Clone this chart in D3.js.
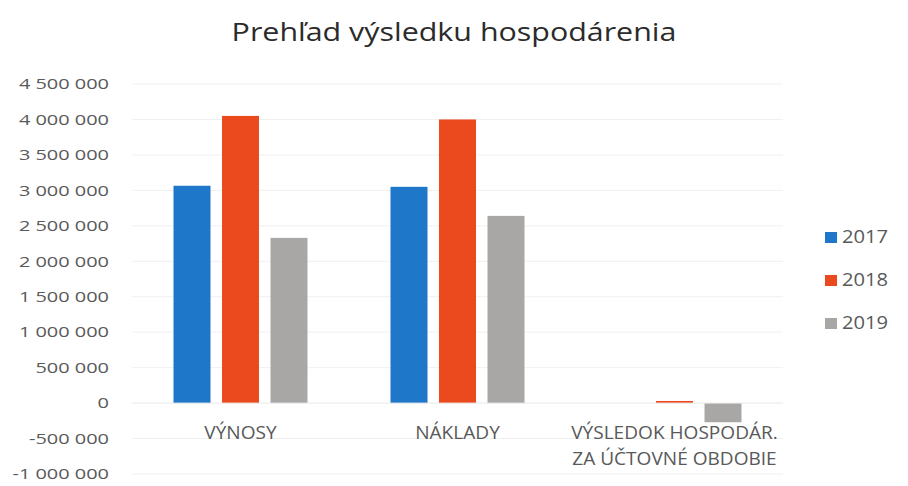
<!DOCTYPE html>
<html>
<head>
<meta charset="utf-8">
<script src="https://cdn.jsdelivr.net/npm/d3@7"></script>
<style>
  body { margin: 0; background: #fff; }
  text { font-family: "Open Sans", "Noto Sans", sans-serif; }
</style>
</head>
<body>
<div id="chart"></div>
<script>
// kategórie a hodnoty (odčítané z obrázka)
const categories = ["VÝNOSY", "NÁKLADY", "VÝSLEDOK HOSPODÁR.|ZA ÚČTOVNÉ OBDOBIE"];
const years = ["2017", "2018", "2019"];
const values2017 = [3065000, 3050000, 0];
const values2018 = [4050000, 4000000, 30000];
const values2019 = [2330000, 2640000, -270000];
const yTicks = [-1000000, -500000, 0, 500000, 1000000, 1500000, 2000000, 2500000, 3000000, 3500000, 4000000, 4500000];
const colors = ["#1f77c9", "#ea4a1e", "#a9a7a5"];

const width = 908, height = 486;
const margin = { left: 132, right: 125, top: 84, bottom: 12 };

const svg = d3.select("#chart").append("svg")
  .attr("width", width).attr("height", height);

const x = d3.scaleBand().domain(categories)
  .range([margin.left, width - margin.right]).paddingInner(0).paddingOuter(0);
const y = d3.scaleLinear().domain([-1000000, 4500000])
  .range([474, 84]);

// medzera ako oddeľovač tisícov, obyčajný spojovník pre mínus
const fmt = v => d3.format(",")(v).replace(/,/g, " ").replace("−", "-");

// text roztiahnutý do šírky (predloha je mierne roztiahnutá)
function stretched(g, tx, ty, sx) {
  return g.append("text")
    .attr("transform", `translate(${tx},${ty}) scale(${sx},1)`);
}

// mriežka
svg.append("g").selectAll("line")
  .data(yTicks.filter(t => t !== 0))
  .enter().append("line")
  .attr("x1", margin.left).attr("x2", width - margin.right)
  .attr("y1", d => y(d)).attr("y2", d => y(d))
  .attr("stroke", "#f0f0f0").attr("stroke-width", 1);

// os Y - popisy
const yAxis = svg.append("g");
yTicks.forEach(t => {
  stretched(yAxis, 109, y(t), 1.33)
    .attr("dy", "0.35em")
    .attr("text-anchor", "end")
    .attr("font-size", 15)
    .attr("fill", "#595959")
    .text(fmt(t));
});

// stĺpce
const series = [values2017, values2018, values2019];
const barW = 37, gap = 11.5;
const groups = svg.append("g");
series.forEach((vals, si) => {
  groups.selectAll(".bar" + si)
    .data(vals)
    .enter().append("rect")
    .attr("class", "bar" + si)
    .attr("x", (d, i) => x(categories[i]) + x.bandwidth() / 2 - barW * 1.5 - gap + si * (barW + gap))
    .attr("width", barW)
    .attr("y", d => Math.min(y(d), y(0)))
    .attr("height", d => Math.max(Math.abs(y(d) - y(0)), d === 0 ? 0 : 1.5))
    .attr("fill", colors[si]);
});

// nulová os
svg.append("line")
  .attr("x1", margin.left).attr("x2", width - margin.right)
  .attr("y1", y(0)).attr("y2", y(0))
  .attr("stroke", "#e8e8e8");

// popisy kategórií
categories.forEach(c => {
  const lines = c.split("|");
  lines.forEach((ln, li) => {
    stretched(svg, x(c) + x.bandwidth() / 2, 439 + li * 26, 1.06)
      .attr("text-anchor", "middle")
      .attr("font-size", 18)
      .attr("fill", "#595959")
      .text(ln);
  });
});

// nadpis
stretched(svg, 454, 41, 1.17)
  .attr("text-anchor", "middle")
  .attr("font-size", 26)
  .attr("fill", "#2b2b2b")
  .text("Prehľad výsledku hospodárenia");

// legenda
const legend = svg.append("g");
years.forEach((yr, i) => {
  legend.append("rect")
    .attr("x", 825).attr("y", 232 + i * 43)
    .attr("width", 12).attr("height", 11)
    .attr("fill", colors[i]);
  stretched(legend, 842, 243 + i * 43, 1.12)
    .attr("font-size", 18)
    .attr("fill", "#595959")
    .text(yr);
});
</script>
</body>
</html>
